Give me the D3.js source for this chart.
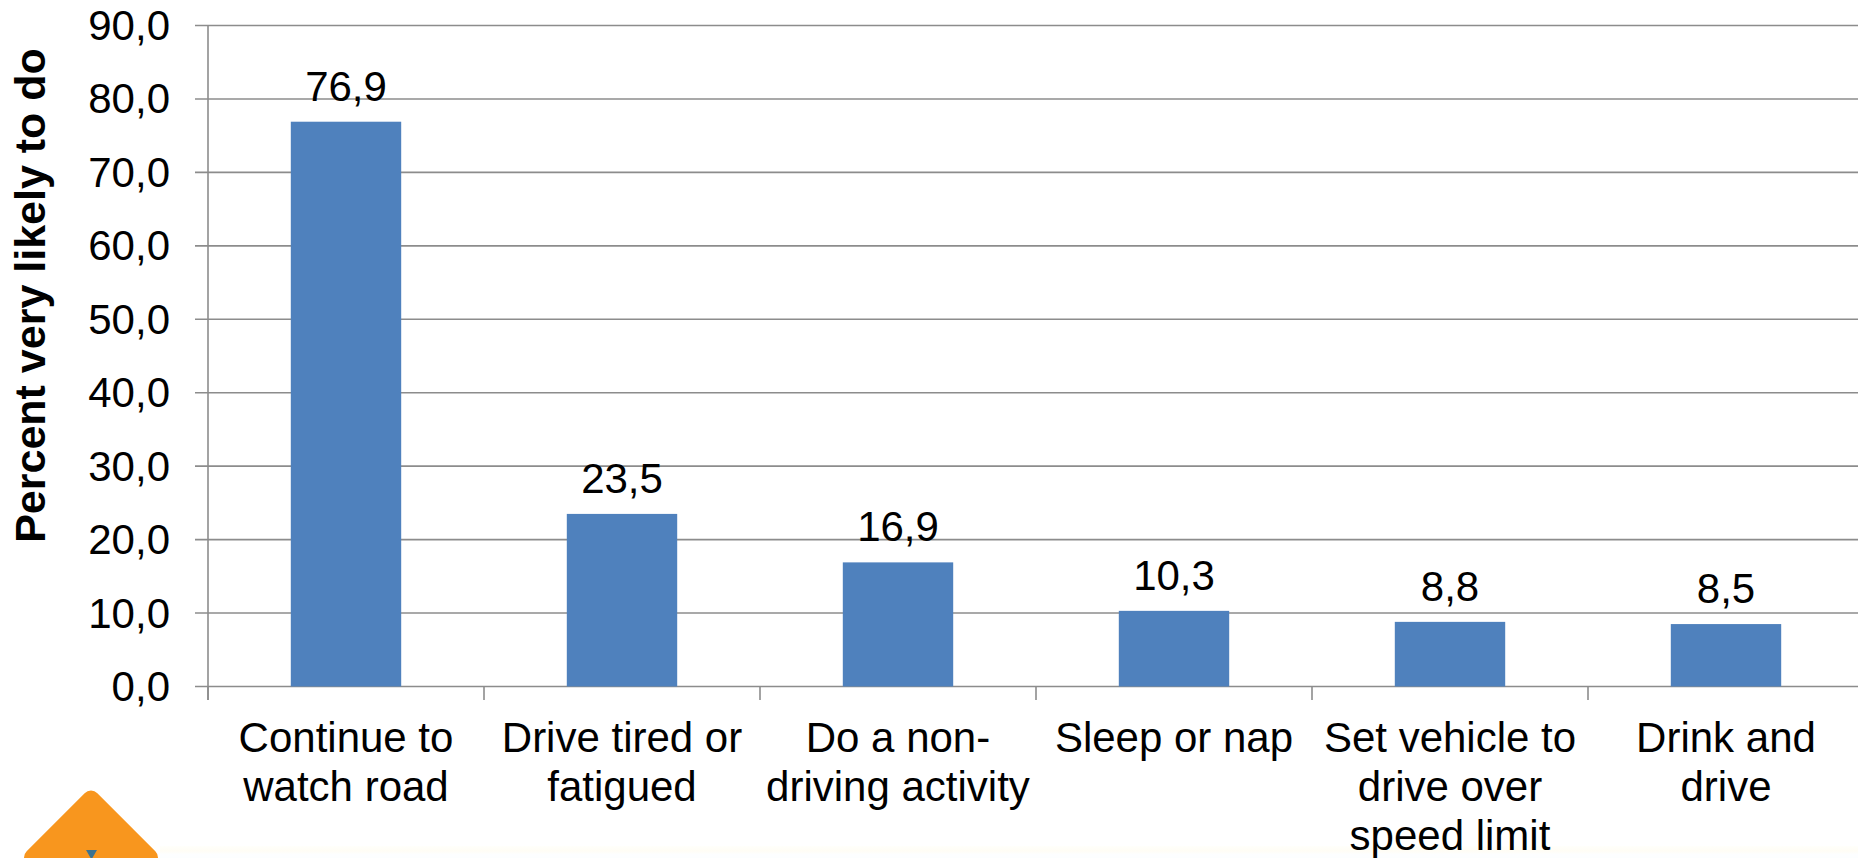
<!DOCTYPE html>
<html>
<head>
<meta charset="utf-8">
<script src="https://cdn.jsdelivr.net/npm/d3@7"></script>
<style>
html, body { margin: 0; padding: 0; background: #fff; overflow: hidden; }
svg { display: block; }
text { font-family: "Liberation Sans", Arial, sans-serif; fill: #000; }
</style>
</head>
<body>
<svg id="chart" width="1858" height="858"></svg>
<script>
const categories = [
  ["Continue to", "watch road"],
  ["Drive tired or", "fatigued"],
  ["Do a non-", "driving activity"],
  ["Sleep or nap"],
  ["Set vehicle to", "drive over", "speed limit"],
  ["Drink and", "drive"]
];
const values = [76.9, 23.5, 16.9, 10.3, 8.8, 8.5];
const valueTicks = [0, 10, 20, 30, 40, 50, 60, 70, 80, 90];
const yTitle = "Percent very likely to do";

const W = 1858, H = 858;
const svg = d3.select("#chart");
const fmt = v => v.toFixed(1).replace(".", ",");
const labelSize = 42;

const x = d3.scaleBand().domain(d3.range(categories.length)).range([208, 1864]).paddingInner(0.6).paddingOuter(0.3);
const y = d3.scaleLinear().domain([0, 90]).range([686.5, 25.5]);

// Footer band and corner badge
const defs = svg.append("defs");
const band = defs.append("linearGradient").attr("id", "footer").attr("x1", 0).attr("x2", 0).attr("y1", 0).attr("y2", 1);
band.append("stop").attr("offset", 0).attr("stop-color", "#fffffb");
band.append("stop").attr("offset", 0.4).attr("stop-color", "#fffdf5");
band.append("stop").attr("offset", 0.7).attr("stop-color", "#fdfeff");
band.append("stop").attr("offset", 1).attr("stop-color", "#fcfeff");
svg.append("rect").attr("x", 160).attr("y", 846).attr("width", W - 160).attr("height", 12).attr("fill", "url(#footer)");

svg.append("rect")
  .attr("x", -50).attr("y", -50).attr("width", 100).attr("height", 100).attr("rx", 9)
  .attr("transform", "translate(91,857.5) rotate(45)")
  .attr("fill", "#f8961e");
svg.append("path").attr("d", d3.symbol(d3.symbolTriangle, 52)())
  .attr("transform", "translate(91.5,853.2) rotate(180)")
  .attr("fill", "#3b7391");

// Gridlines and axes
const axisColor = "#8c8c8c";
svg.append("g").selectAll("line").data(valueTicks).join("line")
  .attr("x1", 195).attr("x2", W)
  .attr("y1", d => y(d)).attr("y2", d => y(d))
  .attr("stroke", axisColor).attr("stroke-width", 1.6);

svg.append("line").attr("x1", 208).attr("x2", 208).attr("y1", y(90)).attr("y2", 700)
  .attr("stroke", axisColor).attr("stroke-width", 1.6);

const xTicks = d3.range(categories.length + 1).map(i => 208 + i * x.step());
svg.append("g").selectAll("line").data(xTicks).join("line")
  .attr("x1", d => d).attr("x2", d => d)
  .attr("y1", y(0)).attr("y2", 700)
  .attr("stroke", axisColor).attr("stroke-width", 1.6);

// Bars
svg.append("g").selectAll("rect").data(values).join("rect")
  .attr("x", (d, i) => x(i))
  .attr("y", d => y(d))
  .attr("width", x.bandwidth())
  .attr("height", d => y(0) - y(d))
  .attr("fill", "#4f81bd");

// Value labels
svg.append("g").selectAll("text").data(values).join("text")
  .attr("x", (d, i) => x(i) + x.bandwidth() / 2)
  .attr("y", d => y(d) - 21)
  .attr("text-anchor", "middle")
  .attr("font-size", labelSize)
  .text(fmt);

// Value axis labels
svg.append("g").selectAll("text").data(valueTicks).join("text")
  .attr("x", 170)
  .attr("y", d => y(d) + 14.5)
  .attr("text-anchor", "end")
  .attr("font-size", labelSize)
  .text(fmt);

// Category labels
svg.append("g").selectAll("text").data(categories).join("text")
  .attr("text-anchor", "middle")
  .attr("font-size", labelSize)
  .each(function (lines, i) {
    d3.select(this).selectAll("tspan").data(lines).join("tspan")
      .attr("x", x(i) + x.bandwidth() / 2)
      .attr("y", (l, j) => 751.7 + j * 49.2)
      .text(l => l);
  });

// Value axis title
svg.append("text")
  .attr("transform", "translate(45,295.5) rotate(-90)")
  .attr("text-anchor", "middle")
  .attr("font-size", 43)
  .attr("font-weight", "bold")
  .text(yTitle);
</script>
</body>
</html>
